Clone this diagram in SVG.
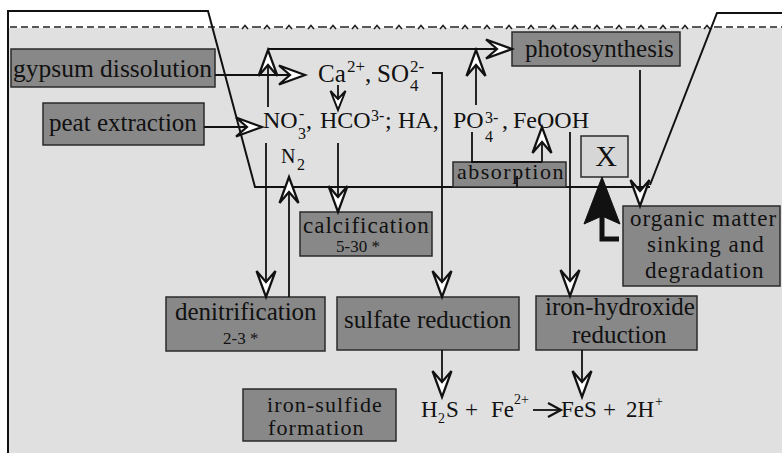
<svg xmlns="http://www.w3.org/2000/svg" width="782" height="453" viewBox="0 0 782 453">
<style>
  .bx{fill:#888;stroke:#2a2a2a;stroke-width:1.5}
  .lb{font-family:"Liberation Serif","Times New Roman",serif;font-size:25px;fill:#111}
  .sm{font-family:"Liberation Serif","Times New Roman",serif;font-size:17px;fill:#111}
  .ch{font-family:"Liberation Serif","Times New Roman",serif;font-size:25px;fill:#111}
  .c2{font-family:"Liberation Serif","Times New Roman",serif;font-size:24px;fill:#111}
  .eq{font-family:"Liberation Serif","Times New Roman",serif;font-size:23px;fill:#111}
  .sp{font-family:"Liberation Serif","Times New Roman",serif;font-size:16px;fill:#111}
  .ln{fill:none;stroke:#111;stroke-width:1.8}
</style>
<defs>
  <marker id="arr" markerUnits="userSpaceOnUse" markerWidth="32" markerHeight="26" refX="28" refY="12" orient="auto" overflow="visible">
    <path d="M28,12 L2,2.5 L13,12 L2,21.5 Z" fill="#fff" stroke="#111" stroke-width="2.2"/>
  </marker>
  <marker id="arrs" markerUnits="userSpaceOnUse" markerWidth="26" markerHeight="20" refX="21" refY="9" orient="auto" overflow="visible">
    <path d="M21,9 L2,1.5 L10,9 L2,16.5 Z" fill="#fff" stroke="#111" stroke-width="2"/>
  </marker>
  <marker id="arrt" markerUnits="userSpaceOnUse" markerWidth="18" markerHeight="18" refX="14" refY="8" orient="auto" overflow="visible">
    <path d="M1,1 L14,8 L1,15" fill="none" stroke="#111" stroke-width="2.2"/>
  </marker>
  <pattern id="wave" patternUnits="userSpaceOnUse" x="230" y="22" width="22" height="10">
    <path d="M0,5 H9 M12,7 L15,3.5 L18,7" stroke="#222" stroke-width="1.6" fill="none"/>
  </pattern>
</defs>

<!-- background -->
<rect x="0" y="0" width="782" height="453" fill="#fff"/>
<rect x="8" y="28" width="774" height="425" fill="#e0e0e0"/>

<!-- water surface -->
<g id="water">
  <line x1="10" y1="27" x2="230" y2="27" stroke="#222" stroke-width="1.6" stroke-dasharray="7 4"/>
  <rect x="230" y="22" width="485" height="10" fill="url(#wave)"/>
  <line x1="715" y1="27" x2="782" y2="27" stroke="#222" stroke-width="1.6" stroke-dasharray="7 4"/>
</g>

<!-- basin outline -->
<g id="basin" class="ln" style="stroke-width:2">
  <path d="M8,453 V11 H208 L255,187 H650"/>
  <path d="M650,185 L717,13 H782"/>
</g>

<!-- nodes -->
<g id="gypsum"><rect class="bx" x="11" y="49" width="204" height="38"/><text class="lb" x="13" y="77" textLength="199" lengthAdjust="spacingAndGlyphs">gypsum dissolution</text></g>
<g id="peat"><rect class="bx" x="43" y="103" width="161" height="42"/><text class="lb" x="49" y="131">peat extraction</text></g>
<g id="photosynthesis"><rect class="bx" x="512" y="32" width="168" height="34"/><text class="lb" x="525" y="57">photosynthesis</text></g>
<g id="absorption"><rect class="bx" x="453" y="162" width="113" height="25"/><text class="lb" style="font-size:22px;letter-spacing:1.5px" x="457" y="179">absorption</text></g>
<g id="x"><rect x="581" y="136" width="47" height="41" fill="#d6d6d6" stroke="#2a2a2a" stroke-width="1.5"/><text class="ch" style="font-size:30px" x="606" y="166" text-anchor="middle">X</text></g>
<g id="calcification"><rect class="bx" x="300" y="212" width="132" height="44"/><text class="lb" style="font-size:23px;letter-spacing:1px" x="303" y="233">calcification</text><text class="sm" x="336" y="252">5-30 *</text></g>
<g id="organic"><rect class="bx" x="623" y="206" width="157" height="80"/><text class="lb" style="font-size:23px;letter-spacing:1px" x="630" y="226">organic matter</text><text class="lb" style="font-size:23px;letter-spacing:1px" x="647" y="252">sinking and</text><text class="lb" style="font-size:23px;letter-spacing:1px" x="645" y="278">degradation</text></g>
<g id="denitrification"><rect class="bx" x="166" y="297" width="159" height="54"/><text class="lb" x="175" y="320">denitrification</text><text class="sm" x="223" y="344">2-3 *</text></g>
<g id="sulfate"><rect class="bx" x="337" y="297" width="182" height="53"/><text class="lb" x="344" y="328">sulfate reduction</text></g>
<g id="ironhydroxide"><rect class="bx" x="536" y="296" width="161" height="54"/><text class="lb" x="545" y="315">iron-hydroxide</text><text class="lb" x="572" y="343">reduction</text></g>
<g id="ironsulfide"><rect class="bx" x="243" y="389" width="153" height="52"/><text class="lb" style="font-size:22px;letter-spacing:1.1px" x="267" y="412">iron-sulfide</text><text class="lb" style="font-size:22px;letter-spacing:1.1px" x="268" y="435">formation</text></g>

<!-- chemical species -->
<g id="ca-so4">
  <text class="ch" x="318" y="82">Ca</text>
  <text class="sp" style="font-size:17px" x="347" y="72">2+</text>
  <text class="ch" x="365" y="82">,</text>
  <text class="ch" x="377" y="82">SO</text>
  <text class="sp" style="font-size:17px" x="410" y="72">2-</text>
  <text class="sp" style="font-size:17px" x="410" y="91">4</text>
</g>
<g id="row2">
  <text class="c2" x="263" y="128">NO</text>
  <text class="sp" x="298" y="139">3</text>
  <text class="sp" x="299" y="119">-</text>
  <text class="c2" x="306" y="128">,</text>
  <text class="c2" x="320" y="128">HCO</text>
  <text class="sp" x="371" y="121">3-</text>
  <text class="c2" x="385" y="128">;</text>
  <text class="c2" x="398" y="128">HA,</text>
  <text class="c2" x="453" y="128">PO</text>
  <text class="sp" x="485" y="123">3-</text>
  <text class="sp" x="485" y="142">4</text>
  <text class="c2" x="502" y="128">,</text>
  <text class="c2" x="513" y="128">FeOOH</text>
</g>
<g id="n2">
  <text class="ch" style="font-size:20px" x="281" y="163">N</text>
  <text class="sp" x="297" y="170">2</text>
</g>
<g id="equation">
  <text class="eq" x="421" y="417">H</text>
  <text class="sp" style="font-size:14px" x="438" y="423">2</text>
  <text class="eq" x="446" y="417">S</text>
  <text class="eq" x="465" y="417">+</text>
  <text class="eq" x="491" y="417">Fe</text>
  <text class="sp" style="font-size:14px" x="514" y="404">2+</text>
  <text class="eq" x="561" y="417">FeS</text>
  <text class="eq" x="603" y="417">+</text>
  <text class="eq" x="626" y="417">2H</text>
  <text class="sp" style="font-size:14px" x="655" y="406">+</text>
</g>

<!-- connectors -->
<g id="connectors" class="ln">
  <path d="M215,75 H305" marker-end="url(#arr)"/>
  <path d="M204,127 H262" marker-end="url(#arr)"/>
  <path d="M268,49 H512" marker-end="url(#arr)"/>
  <path d="M268,107 V50" marker-end="url(#arr)"/>
  <path d="M476,105 V50" marker-end="url(#arr)"/>
  <path d="M338,85 V110" marker-end="url(#arrs)"/>
  <path d="M432,73 H442 V297" marker-end="url(#arr)"/>
  <path d="M266,143 V297" marker-end="url(#arr)"/>
  <path d="M289,297 V177" marker-end="url(#arr)"/>
  <path d="M338,143 V212" marker-end="url(#arr)"/>
  <path d="M472,132 V162 H542"/>
  <path d="M542,162 V127" marker-end="url(#arr)"/>
  <path d="M517,176 V187"/>
  <path d="M570,132 V296" marker-end="url(#arr)"/>
  <path d="M640,70 V206" marker-end="url(#arr)"/>
  <path d="M442,350 V397" marker-end="url(#arr)"/>
  <path d="M582,350 V397" marker-end="url(#arr)"/>
  <path d="M533,410 H561" marker-end="url(#arrt)"/>
  <path d="M602,214 V239 H619" style="stroke-width:5"/>
  <path d="M602,177 L620,224 L602,216 L584,224 Z" fill="#111" stroke="#111" stroke-width="1"/>
</g>
</svg>
